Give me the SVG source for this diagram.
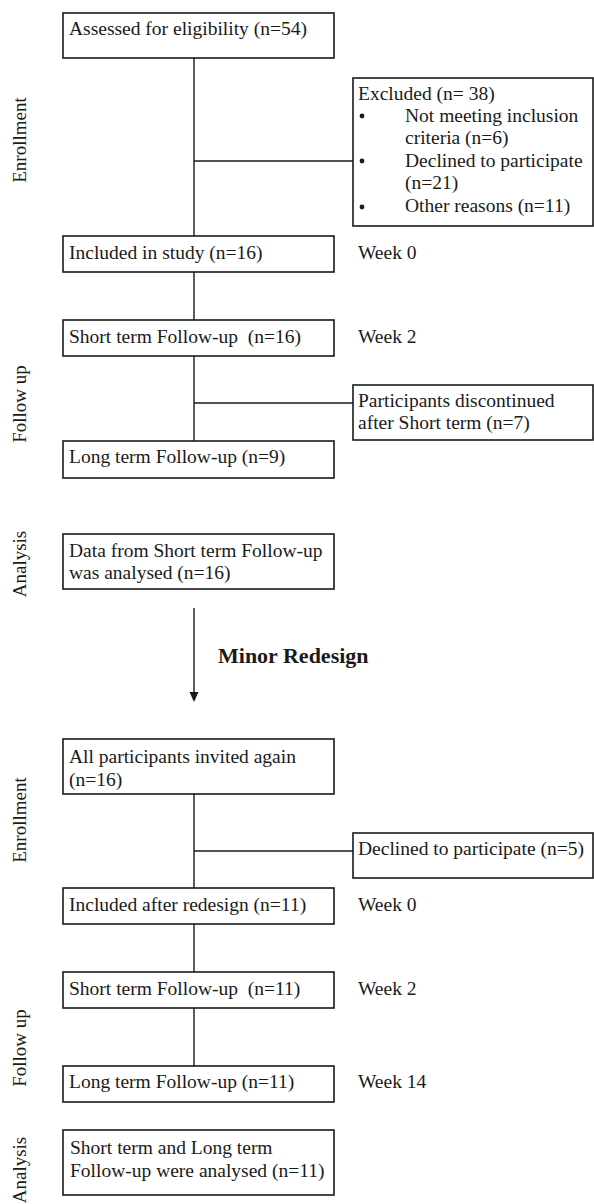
<svg xmlns="http://www.w3.org/2000/svg" width="594" height="1204" viewBox="0 0 594 1204">
<style>
text{font-family:"Liberation Serif","Times New Roman",serif;font-size:19.5px;fill:#1a1a1a}
.box{fill:#fff;stroke:#1a1a1a;stroke-width:1.6}
.ln{stroke:#1a1a1a;stroke-width:1.4;fill:none}
.side{font-size:19px}
.bold{font-weight:bold;font-size:22px}
.dot{fill:#1a1a1a}
</style>
<g id="connectors">
<line class="ln" x1="194" y1="58" x2="194" y2="236"/>
<line class="ln" x1="194" y1="161" x2="353" y2="161"/>
<line class="ln" x1="194" y1="272" x2="194" y2="441"/>
<line class="ln" x1="194" y1="403" x2="353" y2="403"/>
<line class="ln" x1="194" y1="608" x2="194" y2="692"/>
<path d="M189.5,692 L198.5,692 L194,702 Z" fill="#1a1a1a"/>
<line class="ln" x1="194" y1="794" x2="194" y2="888"/>
<line class="ln" x1="194" y1="851" x2="353" y2="851"/>
<line class="ln" x1="194" y1="924" x2="194" y2="972"/>
<line class="ln" x1="194" y1="1008" x2="194" y2="1066"/>
</g>
<g id="labels">
<text class="side" text-anchor="middle" transform="translate(26,140) rotate(-90)">Enrollment</text>
<text class="side" text-anchor="middle" transform="translate(26,404) rotate(-90)">Follow up</text>
<text class="side" text-anchor="middle" transform="translate(26,564) rotate(-90)">Analysis</text>
<text class="side" text-anchor="middle" transform="translate(26,820) rotate(-90)">Enrollment</text>
<text class="side" text-anchor="middle" transform="translate(26,1048) rotate(-90)">Follow up</text>
<text class="side" text-anchor="middle" transform="translate(26,1170) rotate(-90)">Analysis</text>
<text x="358" y="259">Week 0</text>
<text x="358" y="343">Week 2</text>
<text x="358" y="911">Week 0</text>
<text x="358" y="995">Week 2</text>
<text x="358" y="1088">Week 14</text>
<text class="bold" x="218" y="663">Minor Redesign</text>
</g>
<g id="n1"><rect class="box" x="63" y="13" width="271" height="45"/><text x="69" y="35">Assessed for eligibility (n=54)</text></g>
<g id="n2"><rect class="box" x="353" y="78" width="240" height="148"/>
<text x="358" y="100">Excluded (n= 38)</text>
<circle class="dot" cx="362" cy="116" r="2.4"/>
<text x="405" y="122">Not meeting inclusion</text>
<text x="405" y="144">criteria (n=6)</text>
<circle class="dot" cx="362" cy="161" r="2.4"/>
<text x="405" y="167">Declined to participate</text>
<text x="405" y="189">(n=21)</text>
<circle class="dot" cx="362" cy="207" r="2.4"/>
<text x="405" y="212">Other reasons (n=11)</text>
</g>
<g id="n3"><rect class="box" x="63" y="236" width="271" height="36"/><text x="69" y="259">Included in study (n=16)</text></g>
<g id="n4"><rect class="box" x="63" y="320" width="271" height="36"/><text x="69" y="343" xml:space="preserve">Short term Follow-up  (n=16)</text></g>
<g id="n5"><rect class="box" x="353" y="385" width="240" height="55"/><text x="358" y="407">Participants discontinued</text><text x="358" y="429">after Short term (n=7)</text></g>
<g id="n6"><rect class="box" x="63" y="441" width="271" height="37"/><text x="69" y="463">Long term Follow-up (n=9)</text></g>
<g id="n7"><rect class="box" x="63" y="534" width="271" height="55"/><text x="69" y="557">Data from Short term Follow-up</text><text x="69" y="579">was analysed (n=16)</text></g>
<g id="n8"><rect class="box" x="63" y="739" width="271" height="55"/><text x="69" y="763">All participants invited again</text><text x="69" y="786">(n=16)</text></g>
<g id="n9"><rect class="box" x="353" y="833" width="240" height="45"/><text x="358" y="855">Declined to participate (n=5)</text></g>
<g id="n10"><rect class="box" x="63" y="888" width="271" height="36"/><text x="69" y="911">Included after redesign (n=11)</text></g>
<g id="n11"><rect class="box" x="63" y="972" width="271" height="36"/><text x="69" y="995" xml:space="preserve">Short term Follow-up  (n=11)</text></g>
<g id="n12"><rect class="box" x="63" y="1066" width="271" height="36"/><text x="69" y="1088">Long term Follow-up (n=11)</text></g>
<g id="n13"><rect class="box" x="63" y="1130" width="271" height="65"/><text x="70" y="1154">Short term and Long term</text><text x="70" y="1177">Follow-up were analysed (n=11)</text></g>
</svg>
